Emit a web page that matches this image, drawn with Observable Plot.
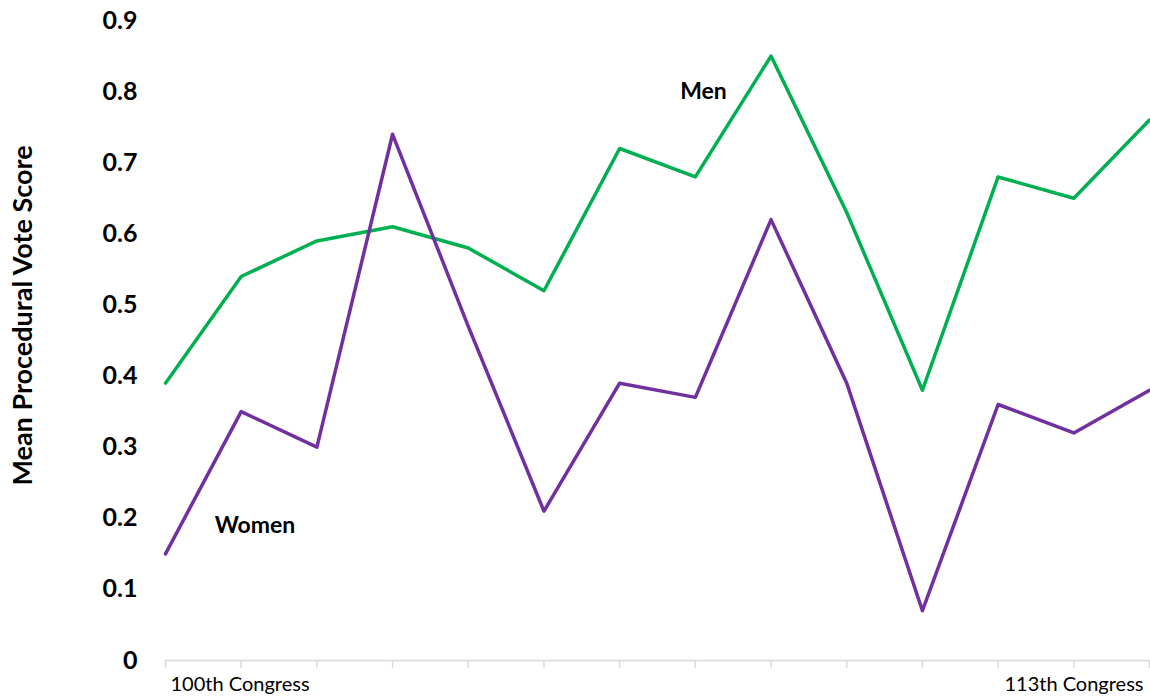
<!DOCTYPE html>
<html>
<head>
<meta charset="utf-8">
<script src="https://cdn.jsdelivr.net/npm/d3@7"></script>
<script src="https://cdn.jsdelivr.net/npm/@observablehq/plot@0.6"></script>
<style>
  html, body { margin: 0; padding: 0; background: #fff; }
  #chart svg { display: block; }
</style>
</head>
<body>
<div id="chart"></div>
<script>
const congresses = [100, 101, 102, 103, 104, 105, 106, 107, 108, 109, 110, 111, 112, 113];
const men   = [0.39, 0.54, 0.59, 0.61, 0.58, 0.52, 0.72, 0.68, 0.85, 0.63, 0.38, 0.68, 0.65, 0.76];
const women = [0.15, 0.35, 0.30, 0.74, 0.47, 0.21, 0.39, 0.37, 0.62, 0.39, 0.07, 0.36, 0.32, 0.38];
const yTicks = [0, 0.1, 0.2, 0.3, 0.4, 0.5, 0.6, 0.7, 0.8, 0.9];
const firstLabel = [{c: 100, text: "100th Congress"}];
const lastLabel = [{c: 113, text: "113th Congress"}];
const seriesLabels = [{c: 106.8, v: 0.80, text: "Men"}, {c: 100.65, v: 0.19, text: "Women"}];

const menData = congresses.map((c, i) => ({c, v: men[i]}));
const womenData = congresses.map((c, i) => ({c, v: women[i]}));
const font = "Lato, 'Open Sans', sans-serif";

const chart = Plot.plot({
  width: 1150,
  height: 696,
  marginLeft: 165,
  marginRight: 1,
  marginTop: 20,
  marginBottom: 36,
  style: {fontFamily: font, background: "#fff", color: "#000"},
  x: {type: "linear", domain: [100, 113], axis: null},
  y: {type: "linear", domain: [0, 0.9], axis: null},
  marks: [
    Plot.axisY(yTicks, {
      tickSize: 0, tickPadding: 28, fontSize: 25, fontWeight: "bold",
      tickFormat: d => d === 0 ? "0" : d3.format(".1f")(d),
      label: null
    }),
    Plot.text(["Mean Procedural Vote Score"], {
      frameAnchor: "left", textAnchor: "middle", dx: -142, dy: -25, rotate: -90,
      fontSize: 27, fontWeight: "bold", fill: "#000"
    }),
    Plot.ruleY([0], {stroke: "#d9d9d9", strokeWidth: 1.5}),
    Plot.ruleX(congresses, {x: d => d, y1: 0, y2: 0, insetBottom: -8, stroke: "#d9d9d9", strokeWidth: 1.5}),
    Plot.text(firstLabel, {
      x: "c", y: 0, text: "text", textAnchor: "start", dx: 5, dy: 24,
      fontSize: 20, fill: "#000"
    }),
    Plot.text(lastLabel, {
      x: "c", y: 0, text: "text", textAnchor: "end", dx: -6, dy: 24,
      fontSize: 20, fill: "#000"
    }),
    Plot.line(menData, {x: "c", y: "v", stroke: "#00B050", strokeWidth: 3.5}),
    Plot.line(womenData, {x: "c", y: "v", stroke: "#7030A0", strokeWidth: 3.5}),
    Plot.text(seriesLabels, {
      x: "c", y: "v", text: "text", textAnchor: "start",
      fontSize: 23, fontWeight: "bold", fill: "#000"
    })
  ]
});
document.getElementById("chart").appendChild(chart);
</script>
</body>
</html>
